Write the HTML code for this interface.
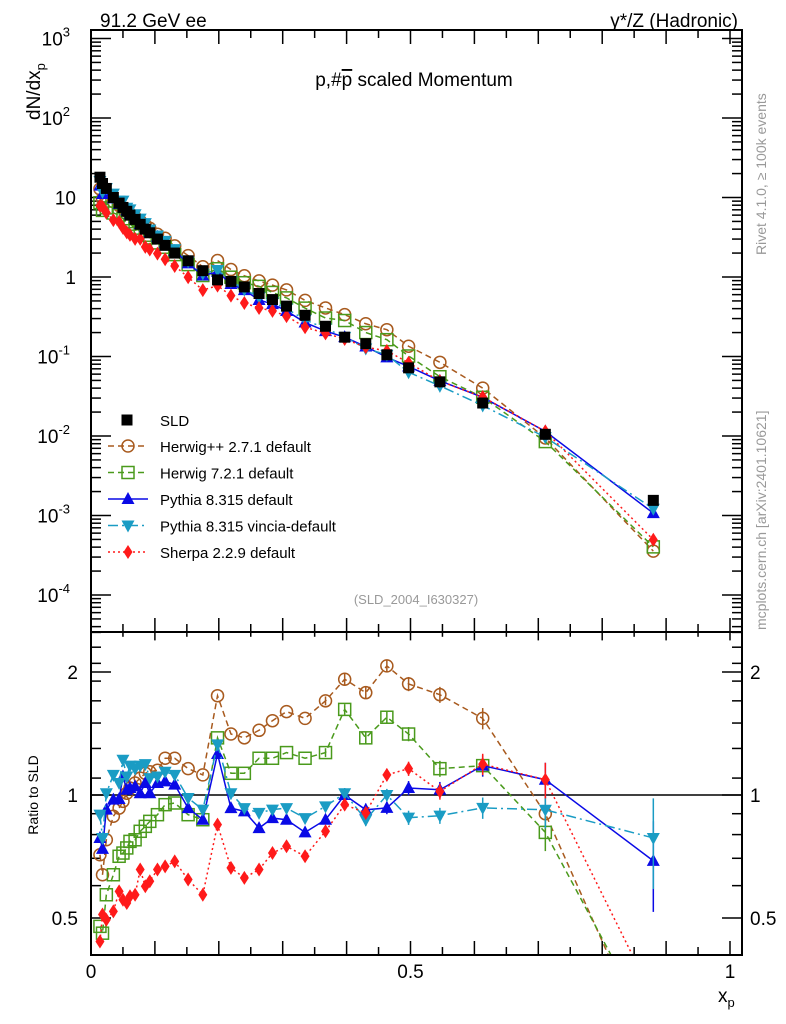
<!DOCTYPE html>
<html><head><meta charset="utf-8"><style>
html,body{margin:0;padding:0;background:#fff;width:786px;height:1024px;overflow:hidden;}
svg{display:block;font-family:"Liberation Sans",sans-serif;}
</style></head><body>
<svg id="c" width="786" height="1024" viewBox="0 0 786 1024" xmlns="http://www.w3.org/2000/svg">
<defs>
<clipPath id="clipTop"><rect x="91" y="30" width="651" height="602"/></clipPath>
<clipPath id="clipBot"><rect x="91" y="632" width="651" height="323"/></clipPath>
</defs>
<rect x="0" y="0" width="786" height="1024" fill="#fff"/>
<g id="axes"></g>
<g id="series"></g>
<rect x="91" y="30" width="651" height="602" fill="none" stroke="#000" stroke-width="2"/>
<rect x="91" y="632" width="651" height="323" fill="none" stroke="#000" stroke-width="2"/>
<text x="100" y="27" font-size="19">91.2 GeV ee</text>
<text x="738" y="27" font-size="19" text-anchor="end">γ*/Z (Hadronic)</text>
<text x="414" y="86" font-size="19" text-anchor="middle">p,#<tspan text-decoration="overline">p</tspan> scaled Momentum</text>
<text x="416" y="604" font-size="13" fill="#999" text-anchor="middle">(SLD_2004_I630327)</text>
<text transform="translate(40,120) rotate(-90)" font-size="19">dN/dx<tspan font-size="13" dy="5">p</tspan></text>
<text transform="translate(38,795) rotate(-90)" font-size="14" text-anchor="middle">Ratio to SLD</text>
<text x="718" y="1002" font-size="19">x<tspan font-size="13" dy="5">p</tspan></text>
<text transform="translate(766,255) rotate(-90)" font-size="14" fill="#999">Rivet 4.1.0, ≥ 100k events</text>
<text transform="translate(766,630) rotate(-90)" font-size="14" fill="#999">mcplots.cern.ch [arXiv:2401.10621]</text>
<g id="legend"></g>
</svg>
<script>
const xVals=[0.014,0.018,0.024,0.035,0.044,0.05,0.056,0.061,0.069,0.077,0.085,0.092,0.104,0.116,0.131,0.152,0.175,0.198,0.219,0.24,0.263,0.284,0.306,0.335,0.367,0.397,0.43,0.463,0.497,0.546,0.613,0.711,0.88];
const sldVals=[18,15,13,10,8.5,7.5,6.7,6.0,5.3,4.6,4.0,3.6,3.0,2.5,2.0,1.6,1.2,0.92,0.88,0.75,0.62,0.52,0.43,0.33,0.24,0.175,0.145,0.105,0.072,0.048,0.026,0.0105,0.00155];
const herwigppRatio=[0.714,0.638,0.777,0.887,0.929,0.965,1.01,1.04,1.07,1.10,1.13,1.14,1.15,1.23,1.23,1.16,1.12,1.75,1.41,1.38,1.44,1.52,1.60,1.54,1.70,1.92,1.78,2.07,1.87,1.76,1.54,0.90,0.23];
const herwig7Ratio=[0.477,0.459,0.57,0.638,0.708,0.721,0.742,0.77,0.777,0.815,0.838,0.862,0.895,0.947,0.956,0.895,0.87,1.38,1.13,1.13,1.23,1.23,1.27,1.23,1.27,1.62,1.38,1.55,1.41,1.16,1.18,0.81,0.26];
const pythiaRatio=[0.785,0.738,0.921,0.974,0.978,1.11,1.03,1.04,1.05,1.01,1.07,1.01,1.07,1.08,1.06,0.929,0.87,1.26,0.929,0.912,0.83,0.878,0.87,0.81,0.87,1.0,0.92,0.93,1.04,1.03,1.18,1.09,0.69];
const vinciaRatio=[0.895,0.785,1.01,1.12,1.07,1.22,1.11,1.18,1.16,1.18,1.19,1.10,1.11,1.14,1.12,0.983,0.921,1.33,1.01,0.929,0.904,0.921,0.929,0.878,0.938,1.01,0.87,1.0,0.88,0.89,0.93,0.92,0.785];
const sherpaRatio=[0.438,0.51,0.495,0.519,0.581,0.554,0.544,0.565,0.57,0.657,0.598,0.615,0.657,0.669,0.688,0.621,0.57,0.846,0.663,0.627,0.657,0.721,0.749,0.708,0.815,0.947,0.904,1.12,1.16,1.02,1.19,1.09,0.32];
const relErr=[0.01,0.01,0.01,0.01,0.01,0.01,0.01,0.01,0.01,0.01,0.01,0.01,0.01,0.01,0.01,0.01,0.01,0.015,0.015,0.015,0.02,0.02,0.02,0.02,0.025,0.03,0.035,0.035,0.04,0.045,0.06,0.1,0.25];
const seriesNames=["Herwig++ 2.7.1 default","Herwig 7.2.1 default","Pythia 8.315 default","Pythia 8.315 vincia-default","Sherpa 2.2.9 default"];
const NS="http://www.w3.org/2000/svg";
const xs=x=>91+639*x;
const yT=v=>277-79.5*Math.log10(v);
const yR=r=>795-123*Math.log2(r);
const B_TOP=632,B_BOT=955;
function mk(tag,attrs,parent){const e=document.createElementNS(NS,tag);for(const k in attrs)e.setAttribute(k,attrs[k]);parent.appendChild(e);return e;}
const axes=document.getElementById('axes'),ser=document.getElementById('series'),leg=document.getElementById('legend');
for(let i=0;i<=20;i++){const x=xs(i*0.05);const L=i%2===0?14:8;
 let t=mk('line',{x1:x,x2:x,y1:955,y2:955-L,stroke:'#000','stroke-width':1.5},axes);
 
 let t2=mk('line',{x1:x,x2:x,y1:632,y2:632-L,stroke:'#000','stroke-width':1.5},axes);
 
 let t3=mk('line',{x1:x,x2:x,y1:30,y2:30+L,stroke:'#000','stroke-width':1.5},axes);
 
 let t4=mk('line',{x1:x,x2:x,y1:632,y2:632+L*0.6,stroke:'#000','stroke-width':1.5},axes);
 
}
const xTickLabels=["0","0.5","1"];const xTickVals=[0,0.5,1];
xTickVals.forEach((v,i)=>{const t=mk('text',{x:xs(v),y:978,'font-size':19,'text-anchor':'middle'},axes);t.textContent=xTickLabels[i];
 });
for(let d=-5;d<=3;d++){for(let m=1;m<10;m++){const v=m*Math.pow(10,d);const y=yT(v);if(y<30||y>632)continue;const L=m===1?20:10;
 let a=mk('line',{x1:91,x2:91+L,y1:y,y2:y,stroke:'#000','stroke-width':1.5},axes);
 let b=mk('line',{x1:742,x2:742-L,y1:y,y2:y,stroke:'#000','stroke-width':1.5},axes);}}
const yTickExp=[-4,-3,-2,-1,0,1,2,3];
yTickExp.forEach(e=>{const y=yT(Math.pow(10,e));let t;
 if(e===0){t=mk('text',{x:76,y:y+7,'font-size':19,'text-anchor':'end'},axes);t.textContent='1';}
 else if(e===1){t=mk('text',{x:76,y:y+7,'font-size':19,'text-anchor':'end'},axes);t.textContent='10';}
 else{t=mk('text',{x:70,y:y+7,'font-size':19,'text-anchor':'end'},axes);t.textContent='10';const s=mk('tspan',{'font-size':13,dy:-9},t);s.textContent=String(e);}
 });
const rTicks=[0.5,0.6,0.7,0.8,0.9,1,2];
rTicks.forEach(r=>{const y=yR(r);const L=(r===0.5||r===1||r===2)?20:10;
 let a=mk('line',{x1:91,x2:91+L,y1:y,y2:y,stroke:'#000','stroke-width':1.5},axes);
 let b=mk('line',{x1:742,x2:742-L,y1:y,y2:y,stroke:'#000','stroke-width':1.5},axes);});
for(let i=0;i<8;i++){const y=yR(1+i*0.2+0.1);if(y<632)break;
 let a=mk('line',{x1:91,x2:101,y1:y,y2:y,stroke:'#000','stroke-width':1.5},axes);
 let b=mk('line',{x1:742,x2:732,y1:y,y2:y,stroke:'#000','stroke-width':1.5},axes);}
const rLabels=["0.5","1","2"];const rLabelVals=[0.5,1,2];
rLabelVals.forEach((r,i)=>{const y=yR(r)+7;
 let t=mk('text',{x:78,y:y,'font-size':19,'text-anchor':'end'},axes);t.textContent=rLabels[i];
 let t2=mk('text',{x:750,y:y,'font-size':19},axes);t2.textContent=rLabels[i];});
let one=mk('line',{x1:91,x2:742,y1:yR(1),y2:yR(1),stroke:'#000','stroke-width':1.5},axes);

function marker(kind,x,y,color,parent,sz){let e;sz=sz||1;
 if(kind==='circle')e=mk('circle',{cx:x,cy:y,r:6*sz,fill:'none',stroke:color,'stroke-width':1.5},parent);
 else if(kind==='square')e=mk('rect',{x:x-6*sz,y:y-6*sz,width:12*sz,height:12*sz,fill:'none',stroke:color,'stroke-width':1.5},parent);
 else if(kind==='fsquare')e=mk('rect',{x:x-5.5,y:y-5.5,width:11,height:11,fill:color},parent);
 else if(kind==='up')e=mk('polygon',{points:`${x},${y-7*sz} ${x-6.5*sz},${y+5*sz} ${x+6.5*sz},${y+5*sz}`,fill:color},parent);
 else if(kind==='down')e=mk('polygon',{points:`${x},${y+7*sz} ${x-6.5*sz},${y-5*sz} ${x+6.5*sz},${y-5*sz}`,fill:color},parent);
 else e=mk('polygon',{points:`${x},${y-7*sz} ${x-4.5*sz},${y} ${x},${y+7*sz} ${x+4.5*sz},${y}`,fill:color},parent);
 return e;}
// clip a polyline to [ymin,ymax] band, returns list of segments (arrays of points)
function clipPoly(pts,ymin,ymax){const out=[];let cur=[];
 const inside=p=>p[1]>=ymin&&p[1]<=ymax;
 for(let i=0;i<pts.length;i++){const p=pts[i];
  if(i===0){if(inside(p))cur.push(p);continue;}
  const q=pts[i-1];
  const cross=(a,b,yl)=>[a[0]+(b[0]-a[0])*(yl-a[1])/(b[1]-a[1]),yl];
  if(inside(q)&&inside(p)){cur.push(p);}
  else if(inside(q)&&!inside(p)){cur.push(cross(q,p,p[1]>ymax?ymax:ymin));out.push(cur);cur=[];}
  else if(!inside(q)&&inside(p)){cur=[cross(q,p,q[1]>ymax?ymax:ymin),p];}
 }
 if(cur.length>1)out.push(cur);return out;}
const styles=[
 {ratio:herwigppRatio,color:'#a85a1e',kind:'circle',dash:'6,4',name:'herwigpp'},
 {ratio:herwig7Ratio,color:'#4a9a1c',kind:'square',dash:'6,4',name:'herwig7'},
 {ratio:pythiaRatio,color:'#0a0ae6',kind:'up',dash:'',name:'pythia'},
 {ratio:vinciaRatio,color:'#1a9cc4',kind:'down',dash:'10,4,2,4',name:'vincia'},
 {ratio:sherpaRatio,color:'#ff1a1a',kind:'diamond',dash:'2,3',name:'sherpa'}];
const gTop=mk('g',{'clip-path':'url(#clipTop)'},ser);const gBot=mk('g',{'clip-path':'url(#clipBot)'},ser);
styles.forEach(s=>{
 const ptsT=xVals.map((x,i)=>`${xs(x)},${yT(sldVals[i]*s.ratio[i])}`).join(' ');
 let l1=mk('polyline',{points:ptsT,fill:'none',stroke:s.color,'stroke-width':1.5,'stroke-dasharray':s.dash},gTop);
 
 const rawB=xVals.map((x,i)=>[xs(x),yR(s.ratio[i])]);
 clipPoly(rawB,B_TOP,B_BOT).forEach(seg=>{
  let l2=mk('polyline',{points:seg.map(p=>p.join(',')).join(' '),fill:'none',stroke:s.color,'stroke-width':1.5,'stroke-dasharray':s.dash},gBot);
  });
 xVals.forEach((x,i)=>{const r=s.ratio[i];
  let m=marker(s.kind,xs(x),yT(sldVals[i]*r),s.color,gTop,1);
  
  const yy=yR(r);if(yy>B_BOT-4||yy<B_TOP+4)return;
  const e=relErr[i]*r;
  if(relErr[i]>0.02){let eb=mk('line',{x1:xs(x),x2:xs(x),y1:Math.max(yR(r+e),B_TOP),y2:Math.min(yR(Math.max(r-e,0.01)),B_BOT),stroke:s.color,'stroke-width':1.5},gBot);
   }
  let m2=marker(s.kind,xs(x),yy,s.color,gBot);
  });
});
xVals.forEach((x,i)=>{let m=marker('fsquare',xs(x),yT(sldVals[i]),'#000',gTop);
 });
let le=mk('g',{},leg);
marker('fsquare',127,420,'#000',le);let lt=mk('text',{x:160,y:426,'font-size':15},le);lt.textContent='SLD';
styles.forEach((s,i)=>{const y=446+i*26.5;
 let g=mk('g',{},leg);
 mk('line',{x1:108,x2:148,y1:y,y2:y,stroke:s.color,'stroke-width':1.5,'stroke-dasharray':s.dash},g);
 marker(s.kind,128,y,s.color,g);
 let t=mk('text',{x:160,y:y+6,'font-size':15},g);t.textContent=seriesNames[i];});
</script>
</body></html>
